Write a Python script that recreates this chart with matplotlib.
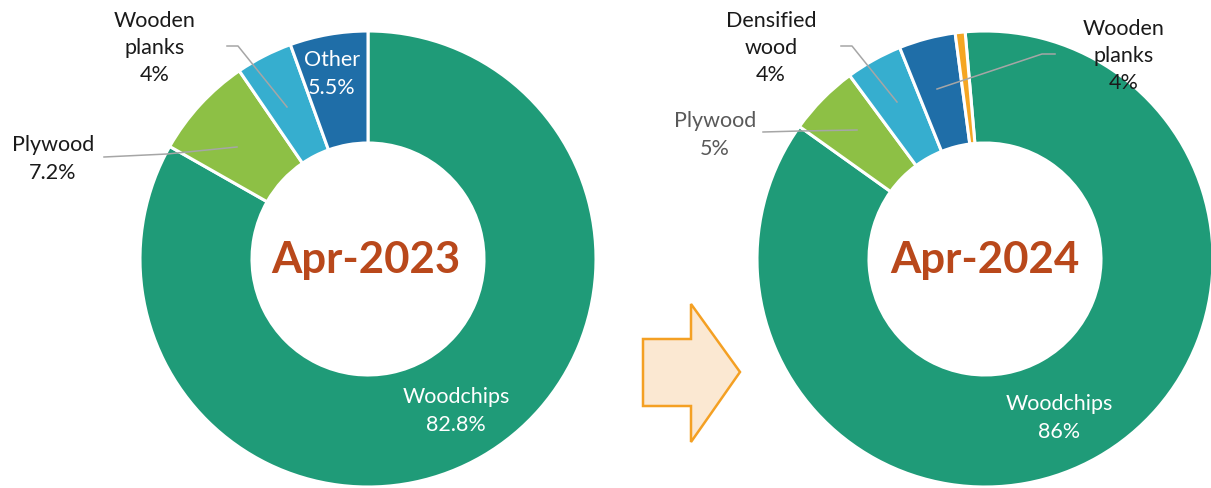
import matplotlib
matplotlib.use("Agg")
import matplotlib.pyplot as plt
from matplotlib.patches import Polygon

plt.rcParams['font.family'] = ['Lato', 'DejaVu Sans']

W, H = 1211, 489

# ---- data ----
cats_2023 = ["Woodchips", "Plywood", "Wooden planks", "Other"]
vals_2023 = [82.8, 7.2, 4.0, 5.5]
labels_2023 = ["82.8%", "7.2%", "4%", "5.5%"]

cats_2024 = ["Woodchips", "Plywood", "Densified wood", "Wooden planks", "Other"]
vals_2024 = [86.0, 5.0, 4.0, 4.0, 0.7]
labels_2024 = ["86%", "5%", "4%", "4%", ""]

colors_2023 = ["#1F9B78", "#8DC045", "#36AECF", "#1F6EA8"]
colors_2024 = ["#1F9B78", "#8DC045", "#36AECF", "#1F6EA8", "#F5A623"]

TITLE_COLOR = "#B9481B"
LEADER = "#A6A6A6"

fig = plt.figure(figsize=(W / 100, H / 100), dpi=100)
ax = fig.add_axes([0, 0, 1, 1])


def Y(y):
    return H - y


R = 228
WIDTH = 112
wp = dict(width=WIDTH, edgecolor="white", linewidth=2.2)

ax.pie(vals_2023, colors=colors_2023, radius=R, center=(368, Y(260)),
       startangle=90, counterclock=False, wedgeprops=wp)
ax.pie(vals_2024, colors=colors_2024, radius=R, center=(985, Y(260)),
       startangle=95, counterclock=False, wedgeprops=wp)

ax.set_xlim(0, W)
ax.set_ylim(0, H)
ax.set_aspect("equal")
ax.axis("off")

# center titles
ax.text(366, Y(260), "Apr-2023", ha="center", va="center", fontsize=31.5,
        fontweight="bold", color=TITLE_COLOR)
ax.text(985, Y(260), "Apr-2024", ha="center", va="center", fontsize=31.5,
        fontweight="bold", color=TITLE_COLOR)

FS = 15.5
LS = 1.45

# left chart labels
ax.text(456, Y(411), f"{cats_2023[0]}\n{labels_2023[0]}", ha="center", va="center",
        fontsize=FS, color="white", linespacing=LS)
ax.text(53, Y(159), f"{cats_2023[1]}\n{labels_2023[1]}", ha="center", va="center",
        fontsize=FS, color="#1a1a1a", linespacing=LS)
ax.text(155, Y(48), "Wooden\nplanks\n" + labels_2023[2], ha="center", va="center",
        fontsize=FS, color="#1a1a1a", linespacing=LS)
ax.text(332, Y(74), f"{cats_2023[3]}\n{labels_2023[3]}", ha="center", va="center",
        fontsize=FS, color="white", linespacing=LS)

ax.plot([104, 167, 237], [Y(158), Y(155), Y(148)], color=LEADER, lw=1.1)
ax.plot([227, 238, 287], [Y(47), Y(47), Y(108)], color=LEADER, lw=1.1)

# right chart labels
ax.text(1059, Y(418), f"{cats_2024[0]}\n{labels_2024[0]}", ha="center", va="center",
        fontsize=FS, color="white", linespacing=LS)
ax.text(715, Y(135), f"{cats_2024[1]}\n{labels_2024[1]}", ha="center", va="center",
        fontsize=FS, color="#595959", linespacing=LS)
ax.text(771, Y(48), "Densified\nwood\n" + labels_2024[2], ha="center", va="center",
        fontsize=FS, color="#1a1a1a", linespacing=LS)
ax.text(1124, Y(56), "Wooden\nplanks\n" + labels_2024[3], ha="center", va="center",
        fontsize=FS, color="#1a1a1a", linespacing=LS)

ax.plot([763, 800, 857], [Y(133), Y(132), Y(131)], color=LEADER, lw=1.1)
ax.plot([841, 852, 897], [Y(47), Y(47), Y(103)], color=LEADER, lw=1.1)
ax.plot([937, 1042, 1055], [Y(90), Y(55), Y(55)], color=LEADER, lw=1.1)

# arrow between charts
arrow_pts = [(643, Y(340)), (691, Y(340)), (691, Y(305)), (740, Y(373)),
             (691, Y(443)), (691, Y(407)), (643, Y(407))]
ax.add_patch(Polygon(arrow_pts, closed=True, facecolor="#FBE8D2",
                     edgecolor="#F4A023", linewidth=1.8, joinstyle="miter"))

fig.savefig("out.png", dpi=100)
